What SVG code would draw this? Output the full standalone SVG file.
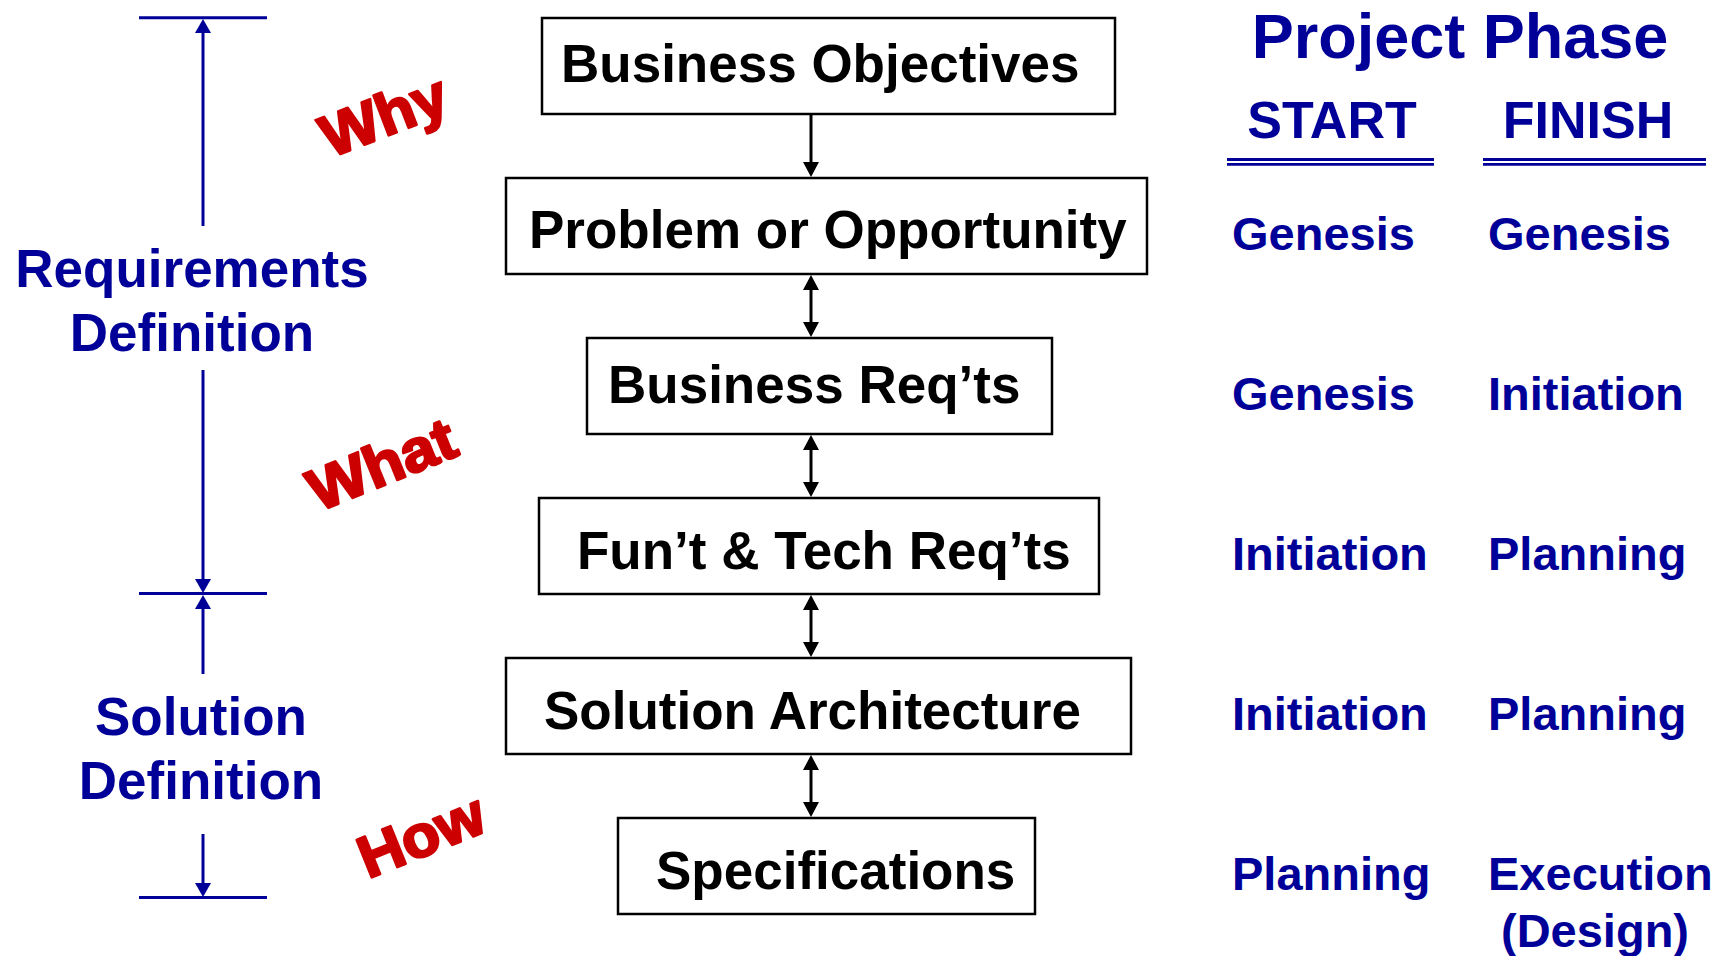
<svg xmlns="http://www.w3.org/2000/svg" width="1729" height="956" viewBox="0 0 1729 956">
<style>
.box{fill:#fff;stroke:#000;stroke-width:2.5}
.bt{font-family:"Liberation Sans",Arial,sans-serif;font-weight:bold;font-size:53px;fill:#000}
.blue{font-family:"Liberation Sans",Arial,sans-serif;font-weight:bold;fill:#000099}
.ph{font-size:47px}
.red{font-family:"Liberation Sans",Arial,sans-serif;font-weight:bold;font-size:59px;fill:#cc0000;stroke:#cc0000;stroke-width:2.5;stroke-linejoin:round}
.con{stroke:#000;stroke-width:3;fill:none}
.bl{stroke:#000099;stroke-width:3;fill:none}
</style>
<defs>
<marker id="ah" markerUnits="userSpaceOnUse" markerWidth="15" markerHeight="16" refX="0" refY="8" orient="auto-start-reverse"><path d="M0,0 L15,8 L0,16 z" fill="#000"/></marker>
<marker id="bh" markerUnits="userSpaceOnUse" markerWidth="14" markerHeight="16" refX="0" refY="8" orient="auto-start-reverse"><path d="M0,0 L14,8 L0,16 z" fill="#000099"/></marker>
</defs>
<rect width="1729" height="956" fill="#fff"/>

<g id="scale-bars">
<line class="bl" x1="139" y1="17.7" x2="267" y2="17.7"/>
<line class="bl" x1="139" y1="593.5" x2="267" y2="593.5"/>
<line class="bl" x1="139" y1="897.5" x2="267" y2="897.5"/>
<line class="bl" x1="203" y1="226" x2="203" y2="33" marker-end="url(#bh)"/>
<line class="bl" x1="203" y1="370" x2="203" y2="579" marker-end="url(#bh)"/>
<line class="bl" x1="203" y1="674" x2="203" y2="609" marker-end="url(#bh)"/>
<line class="bl" x1="203" y1="834" x2="203" y2="883" marker-end="url(#bh)"/>
</g>

<g id="req-def-label">
<text class="blue" font-size="53" x="192" y="287" text-anchor="middle">Requirements</text>
<text class="blue" font-size="53" x="192" y="351" text-anchor="middle">Definition</text>
</g>
<g id="sol-def-label">
<text class="blue" font-size="53" x="201" y="735" text-anchor="middle">Solution</text>
<text class="blue" font-size="53" x="201" y="799" text-anchor="middle">Definition</text>
</g>

<g id="why"><text class="red" transform="translate(330,158) rotate(-21)" textLength="131" lengthAdjust="spacingAndGlyphs">Why</text></g>
<g id="what"><text class="red" transform="translate(318,512) rotate(-22)" textLength="154" lengthAdjust="spacingAndGlyphs">What</text></g>
<g id="how"><text class="red" transform="translate(368,879) rotate(-22)" textLength="131" lengthAdjust="spacingAndGlyphs">How</text></g>

<g id="connectors">
<line class="con" x1="811" y1="114" x2="811" y2="162" marker-end="url(#ah)"/>
<line class="con" x1="811" y1="290" x2="811" y2="322" marker-start="url(#ah)" marker-end="url(#ah)"/>
<line class="con" x1="811" y1="450" x2="811" y2="482" marker-start="url(#ah)" marker-end="url(#ah)"/>
<line class="con" x1="811" y1="610" x2="811" y2="642" marker-start="url(#ah)" marker-end="url(#ah)"/>
<line class="con" x1="811" y1="770" x2="811" y2="802" marker-start="url(#ah)" marker-end="url(#ah)"/>
</g>

<g id="business-objectives">
<rect class="box" x="542" y="18" width="573" height="96"/>
<text class="bt" x="561" y="82">Business Objectives</text>
</g>
<g id="problem-opportunity">
<rect class="box" x="506" y="178" width="641" height="96"/>
<text class="bt" x="529" y="248">Problem or Opportunity</text>
</g>
<g id="business-reqts">
<rect class="box" x="587" y="338" width="465" height="96"/>
<text class="bt" x="608" y="403">Business Req’ts</text>
</g>
<g id="funt-tech-reqts">
<rect class="box" x="539" y="498" width="560" height="96"/>
<text class="bt" x="577" y="569">Fun’t &amp; Tech Req’ts</text>
</g>
<g id="solution-architecture">
<rect class="box" x="506" y="658" width="625" height="96"/>
<text class="bt" x="544" y="729">Solution Architecture</text>
</g>
<g id="specifications">
<rect class="box" x="618" y="818" width="417" height="96"/>
<text class="bt" x="656" y="889">Specifications</text>
</g>

<g id="project-phase-header">
<text class="blue" font-size="63" x="1460" y="58" text-anchor="middle">Project Phase</text>
<text class="blue" font-size="52" x="1332" y="138" text-anchor="middle">START</text>
<text class="blue" font-size="52" x="1588" y="138" text-anchor="middle">FINISH</text>
<g stroke="#000099" stroke-width="2.8">
<line x1="1227" y1="159.5" x2="1434" y2="159.5"/>
<line x1="1227" y1="164.3" x2="1434" y2="164.3"/>
<line x1="1483" y1="159.5" x2="1706" y2="159.5"/>
<line x1="1483" y1="164.3" x2="1706" y2="164.3"/>
</g>
</g>

<g id="phase-rows">
<text class="blue ph" x="1232" y="250">Genesis</text>
<text class="blue ph" x="1488" y="250">Genesis</text>
<text class="blue ph" x="1232" y="410">Genesis</text>
<text class="blue ph" x="1488" y="410">Initiation</text>
<text class="blue ph" x="1232" y="570">Initiation</text>
<text class="blue ph" x="1488" y="570">Planning</text>
<text class="blue ph" x="1232" y="730">Initiation</text>
<text class="blue ph" x="1488" y="730">Planning</text>
<text class="blue ph" x="1232" y="890">Planning</text>
<text class="blue ph" x="1488" y="890">Execution</text>
<text class="blue ph" x="1595" y="947" text-anchor="middle">(Design)</text>
</g>
</svg>
